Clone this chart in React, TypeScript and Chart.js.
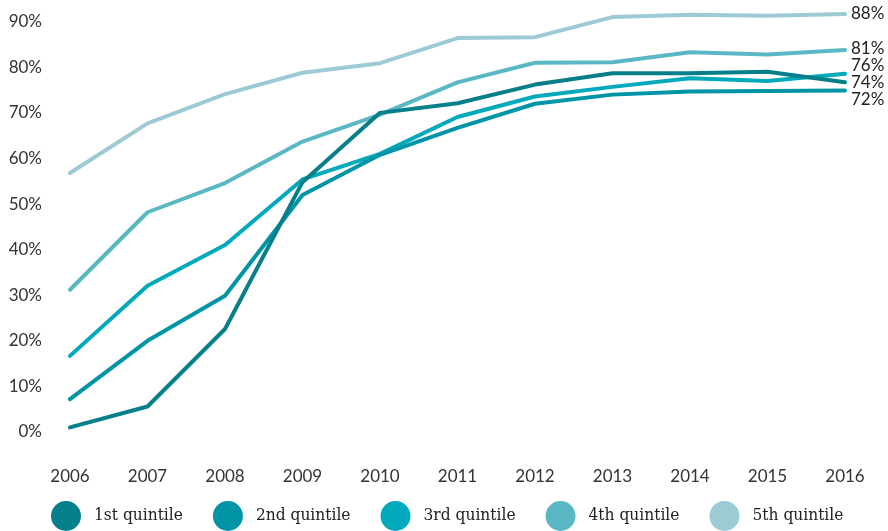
import React, { useEffect, useRef } from "react";
import { Chart, registerables } from "chart.js";

Chart.register(...registerables);

const years = ["2006", "2007", "2008", "2009", "2010", "2011", "2012", "2013", "2014", "2015", "2016"];
const seriesNames = ["1st quintile", "2nd quintile", "3rd quintile", "4th quintile", "5th quintile"];
const q1 = [1.0, 5.6, 22.6, 54.8, 70.0, 72.1, 76.2, 78.7, 78.7, 79.0, 76.7];
const q2 = [7.2, 20.0, 29.9, 52.0, 60.8, 66.7, 72.0, 74.0, 74.7, 74.8, 74.9];
const q3 = [16.7, 32.1, 41.0, 55.4, 61.0, 69.1, 73.6, 75.7, 77.6, 77.0, 78.6];
const q4 = [31.2, 48.2, 54.6, 63.7, 69.6, 76.7, 81.0, 81.1, 83.3, 82.8, 83.8];
const q5 = [56.8, 67.7, 74.1, 78.8, 80.9, 86.4, 86.6, 91.0, 91.5, 91.3, 91.7];
const endLabels = ["74%", "72%", "76%", "81%", "88%"];
const yTickValues = [0, 10, 20, 30, 40, 50, 60, 70, 80, 90];
const colors = ["#077f8a", "#0095a6", "#00a9bb", "#5ab8c5", "#9ccbd5"];

const TICK_FONT = "Lato, 'Open Sans', sans-serif";
const LEGEND_FONT = "'DejaVu Serif Condensed', 'DejaVu Serif', serif";

const endLabelPlugin = {
  id: "endLabels",
  afterDatasetsDraw(chart: any) {
    const ctx = chart.ctx;
    const items: { y: number; text: string }[] = [];
    chart.data.datasets.forEach((ds: any, i: number) => {
      const meta = chart.getDatasetMeta(i);
      const pt = meta.data[meta.data.length - 1];
      items.push({ y: pt.y, text: endLabels[i] });
    });
    items.sort((a, b) => a.y - b.y);
    const gap = 17;
    let clusters = items.map((it) => ({ members: [it], center: it.y }));
    let changed = true;
    while (changed) {
      changed = false;
      for (let i = 0; i < clusters.length - 1; i++) {
        const a = clusters[i];
        const b = clusters[i + 1];
        const aBottom = a.center + ((a.members.length - 1) * gap) / 2;
        const bTop = b.center - ((b.members.length - 1) * gap) / 2;
        if (bTop - aBottom < gap) {
          const members = a.members.concat(b.members);
          const center = members.reduce((s, m) => s + m.y, 0) / members.length;
          clusters.splice(i, 2, { members, center });
          changed = true;
          break;
        }
      }
    }
    ctx.save();
    ctx.font = `17px ${TICK_FONT}`;
    ctx.fillStyle = "#222";
    ctx.textAlign = "left";
    ctx.textBaseline = "middle";
    const x = chart.chartArea.right + 6;
    clusters.forEach((c) => {
      const start = c.center - ((c.members.length - 1) * gap) / 2;
      c.members.forEach((m, k) => {
        ctx.fillText(m.text, x, start + k * gap);
      });
    });
    ctx.restore();
  },
};

const legendPlugin = {
  id: "customLegend",
  afterDraw(chart: any) {
    const ctx = chart.ctx;
    ctx.save();
    let size = 17;
    ctx.font = `${size}px ${LEGEND_FONT}`;
    const w0 = ctx.measureText(seriesNames[0]).width;
    if (w0 > 0) size = Math.max(13, Math.min(18, (size * 89) / w0));
    ctx.font = `${size.toFixed(2)}px ${LEGEND_FONT}`;
    ctx.textBaseline = "middle";
    ctx.textAlign = "left";
    const cy = 516;
    const r = 15;
    let x = 51;
    seriesNames.forEach((name, i) => {
      ctx.fillStyle = colors[i];
      ctx.beginPath();
      ctx.arc(x + r, cy, r, 0, Math.PI * 2);
      ctx.fill();
      const tx = x + 2 * r + 13;
      ctx.fillStyle = "#222";
      ctx.fillText(name, tx, cy);
      const w = ctx.measureText(name).width;
      x = tx + w + 30;
    });
    ctx.restore();
  },
};

export default function App() {
  const canvasRef = useRef<HTMLCanvasElement | null>(null);

  useEffect(() => {
    document.body.style.margin = "0";
    document.body.style.overflow = "hidden";
    let chart: Chart | null = null;
    let cancelled = false;
    const make = () => {
      if (cancelled || !canvasRef.current) return;
      chart = new Chart(canvasRef.current, {
        type: "line",
        data: {
          labels: years,
          datasets: [q1, q2, q3, q4, q5].map((d, i) => ({
            label: seriesNames[i],
            data: d,
            borderColor: colors[i],
            backgroundColor: colors[i],
            borderWidth: 4,
            pointRadius: 0,
            pointHoverRadius: 0,
            tension: 0,
            borderCapStyle: "round" as const,
            borderJoinStyle: "round" as const,
            fill: false,
          })),
        },
        options: {
          animation: false,
          responsive: false,
          events: [],
          layout: { padding: { left: 8, right: 43, top: 8, bottom: 39 } },
          plugins: { legend: { display: false }, tooltip: { enabled: false } },
          scales: {
            x: {
              type: "category",
              offset: false,
              grid: { display: false, drawTicks: false },
              border: { display: false },
              ticks: {
                font: { family: TICK_FONT, size: 17 },
                color: "#333",
                padding: 34,
                maxRotation: 0,
                autoSkip: false,
              },
              afterFit(scale: any) {
                scale.height = 60;
                scale.paddingLeft = 0;
                scale.paddingRight = 0;
              },
            },
            y: {
              min: 0,
              max: 93,
              grid: { display: false, drawTicks: false },
              border: { display: false },
              ticks: {
                font: { family: TICK_FONT, size: 17 },
                color: "#333",
                padding: 28,
                callback: (v: any) => `${v}%`,
              },
              afterBuildTicks(scale: any) {
                scale.ticks = yTickValues.map((v) => ({ value: v }));
              },
              afterFit(scale: any) {
                scale.width = 62;
                scale.paddingTop = 0;
                scale.paddingBottom = 0;
              },
            },
          },
        },
        plugins: [endLabelPlugin, legendPlugin],
      });
    };
    const fontsAny: any = (document as any).fonts;
    if (fontsAny && fontsAny.load) {
      Promise.all([
        fontsAny.load("17px Lato"),
        fontsAny.load("17px 'DejaVu Serif Condensed'"),
        fontsAny.load("17px 'DejaVu Serif'"),
      ])
        .catch(() => null)
        .then(make);
    } else {
      make();
    }
    return () => {
      cancelled = true;
      if (chart) chart.destroy();
    };
  }, []);

  return (
    <div style={{ width: 888, height: 531 }}>
      <canvas ref={canvasRef} width={888} height={531} style={{ display: "block" }} />
    </div>
  );
}
